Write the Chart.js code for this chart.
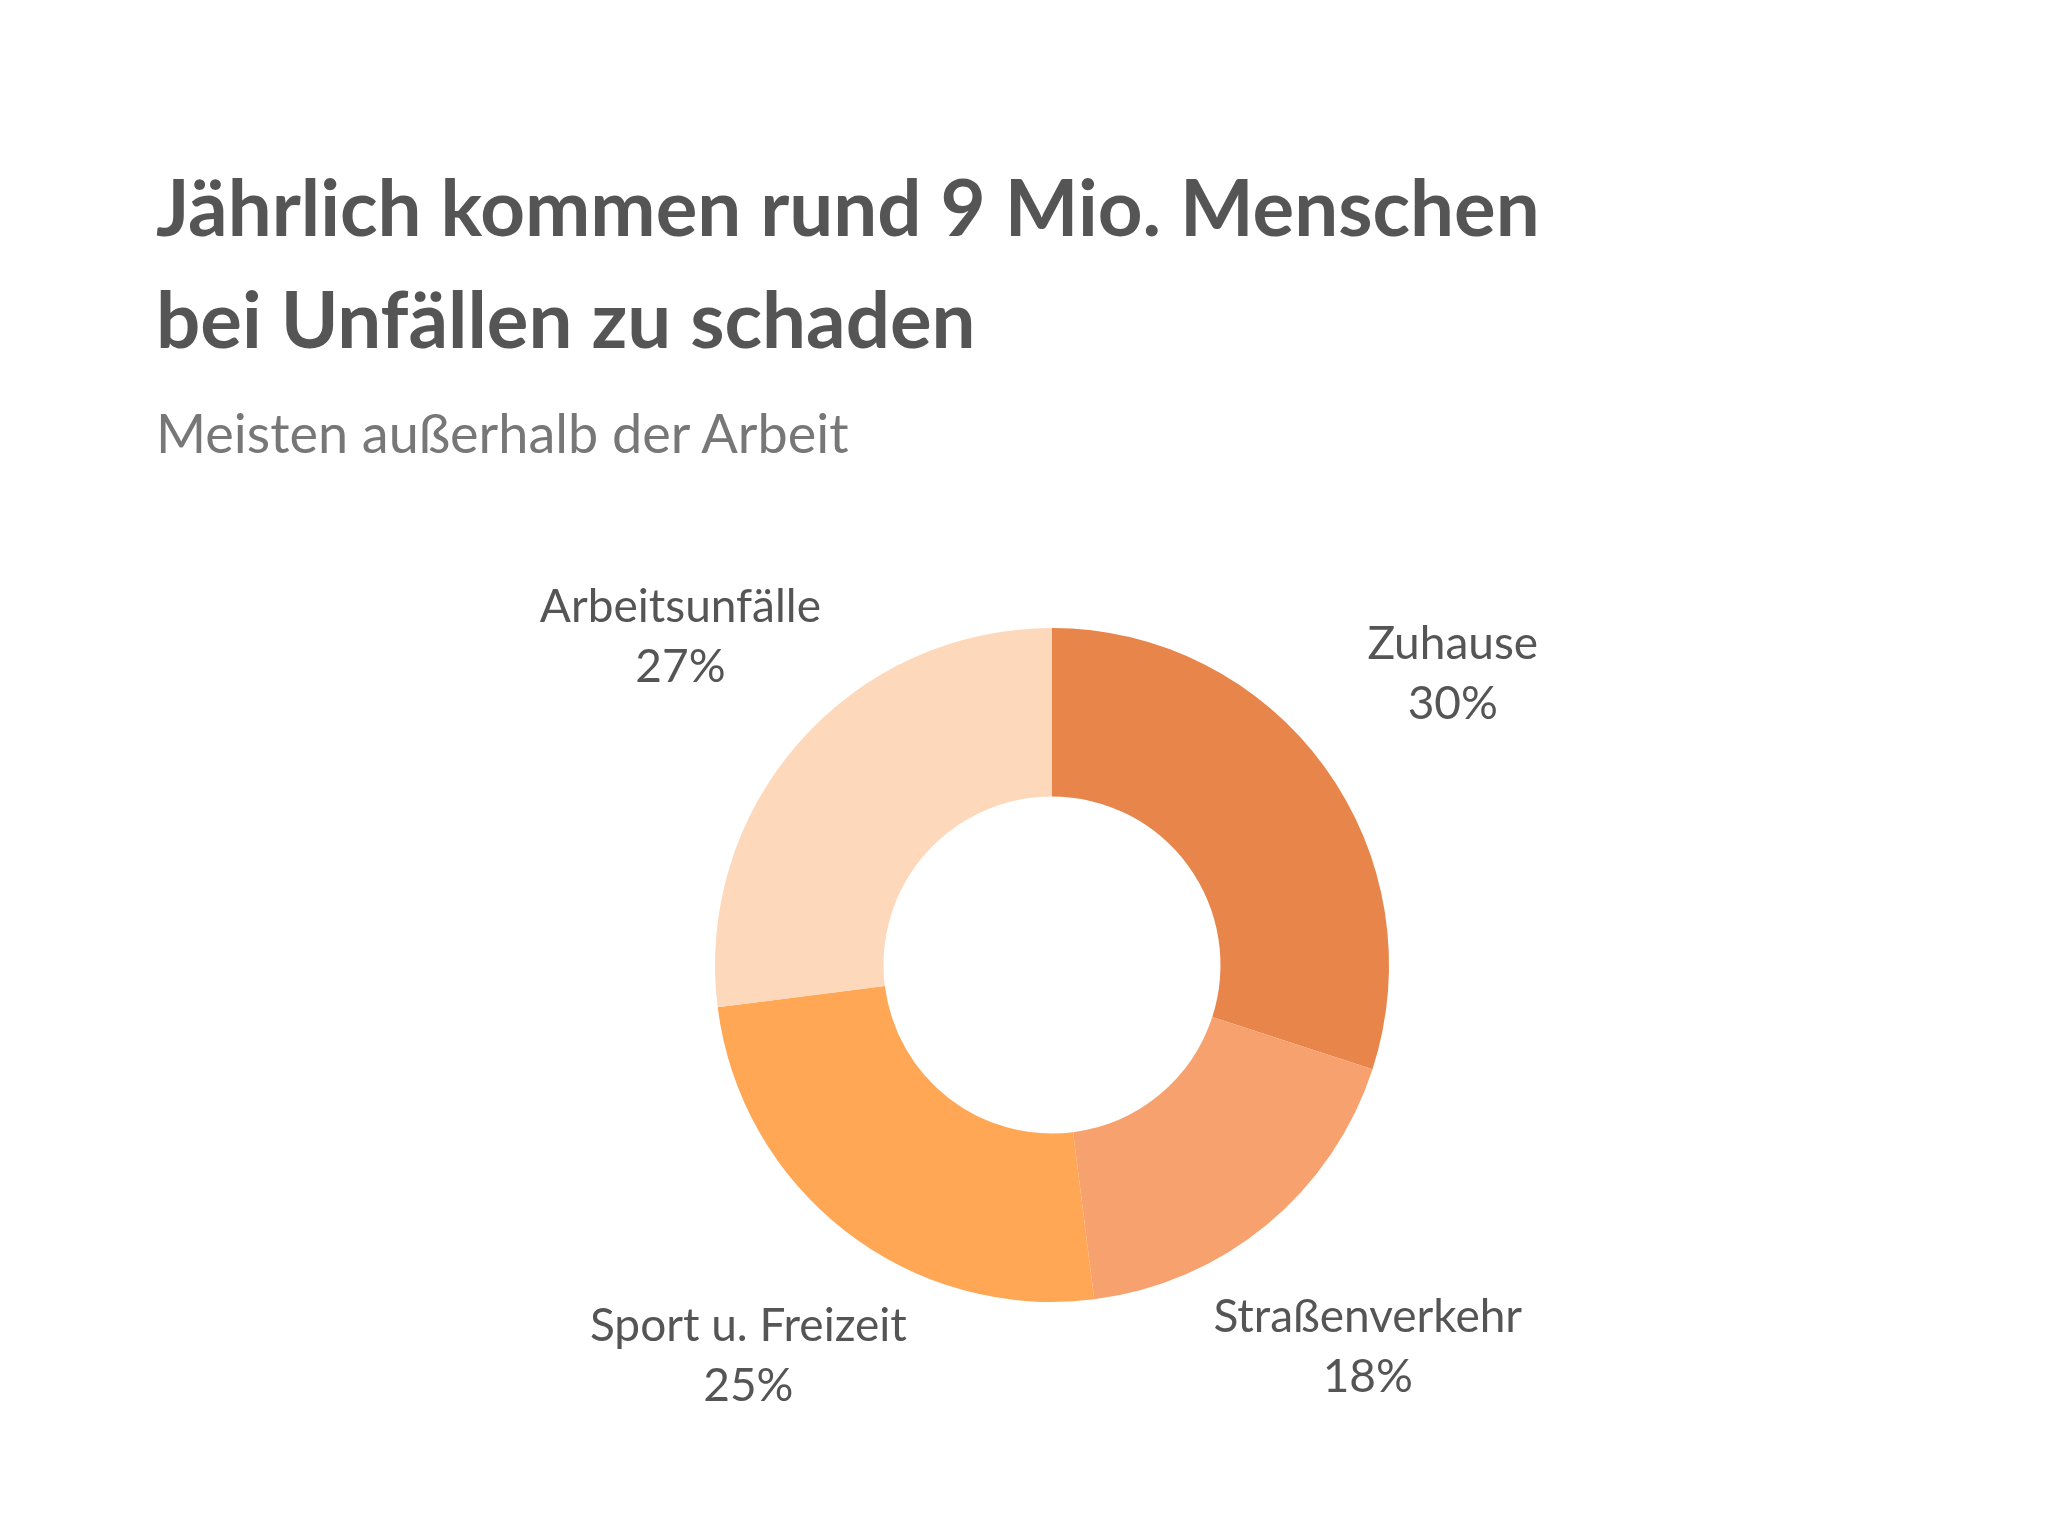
<!DOCTYPE html>
<html><head><meta charset="utf-8">
<script src="https://cdn.jsdelivr.net/npm/chart.js@4"></script>
<style>
html,body{margin:0;width:2048px;height:1536px;overflow:hidden;background:#fff;font-family:Lato,"Open Sans",sans-serif;}
#t{position:absolute;left:156px;top:150px;font-size:78px;font-weight:700;color:#555;line-height:112px;margin:0}
#s{position:absolute;left:156px;top:400px;font-size:54px;color:#777;margin:0}
#box{position:absolute;left:352px;top:265px;width:1400px;height:1400px}
</style></head><body>
<h1 id="t">Jährlich kommen rund 9 Mio. Menschen<br>bei Unfällen zu schaden</h1>
<p id="s">Meisten außerhalb der Arbeit</p>
<div id="box"><canvas id="c"></canvas></div>
<script>
const categories=["Zuhause","Straßenverkehr","Sport u. Freizeit","Arbeitsunfälle"];
const values=[30,18,25,27];
const colors=["#E8854A","#F7A26E","#FFA755","#FED8BA"];
const labelPlugin={id:'lbl',afterDraw(chart){
 const ctx=chart.ctx;const meta=chart.getDatasetMeta(0);
 ctx.save();ctx.fillStyle="#555";ctx.font="46px Lato, 'Open Sans', sans-serif";ctx.textAlign="center";ctx.textBaseline="middle";
 meta.data.forEach((a,i)=>{const p=a.getProps(['x','y','startAngle','endAngle','outerRadius'],true);
  const ang=(p.startAngle+p.endAngle)/2;const r=p.outerRadius*1.47;
  const x=p.x+Math.cos(ang)*r,y=p.y+Math.sin(ang)*r;
  ctx.fillText(categories[i],x,y-30);ctx.fillText(values[i]+"%",x,y+30);});
 ctx.restore();}};
new Chart(document.getElementById('c'),{type:'doughnut',
 data:{labels:categories,datasets:[{data:values,backgroundColor:colors,borderWidth:0}]},
 options:{responsive:true,maintainAspectRatio:false,animation:false,cutout:'50%',
  layout:{padding:363},plugins:{legend:{display:false},tooltip:{enabled:false}}},
 plugins:[labelPlugin]});
</script></body></html>
